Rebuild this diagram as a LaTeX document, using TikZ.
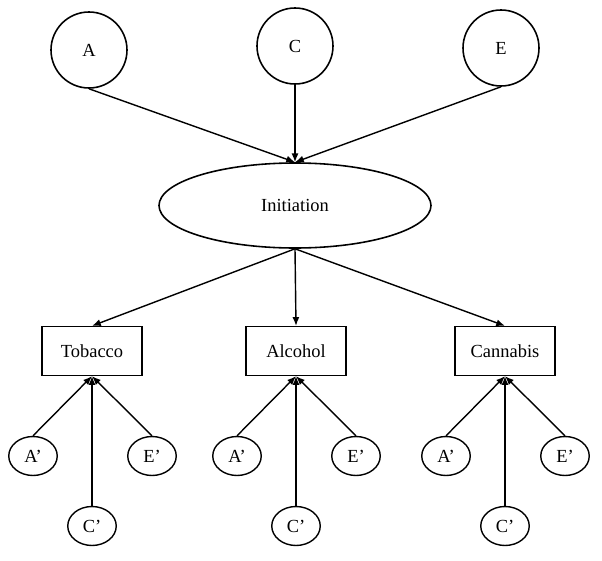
\documentclass[tikz,border=0pt]{standalone}
\usepackage{fontspec}
\setmainfont{Liberation Serif}
\usetikzlibrary{arrows.meta}
\usetikzlibrary{shapes.geometric}
\usetikzlibrary{positioning}
\tikzset{
    factor/.style={
        draw, circle, line width=0.9pt,
        minimum size=1.52cm, inner sep=0pt
    },
    latent/.style={
        draw, ellipse, line width=0.9pt,
        minimum width=5.44cm, minimum height=1.70cm
    },
    substance/.style={
        draw, rectangle, line width=0.7pt,
        minimum width=2.0cm, minimum height=0.98cm
    },
    specific/.style={
        draw, ellipse, line width=0.8pt,
        minimum width=0.97cm, minimum height=0.78cm, inner sep=0pt
    },
    path/.style={line width=0.8pt, -{Latex[length=5pt,width=4pt]}}
}

\begin{document}
\begin{tikzpicture}[font=\fontsize{10.5}{12}\selectfont]
        \useasboundingbox (0,0) rectangle (12.04,-11.2);

        % Common factors
        \node[factor] (A) at (1.78,-1.00) {A};
        \node[factor] (C) at (5.90,-0.92) {C};
        \node[factor] (E) at (10.02,-0.96) {E};

        \node[latent] (init) at (5.90,-4.11) {Initiation};

        \draw[path] (A.south) -- (init.north);
        \draw[path] (C.south) -- (init.north);
        \draw[path] (E.south) -- (init.north);

        % Substances with their specific A', C', E'
        \foreach \name/\lab/\x in {tob/Tobacco/1.84, alc/Alcohol/5.92, can/Cannabis/10.10} {
            \node[substance] (\name) at (\x,-7.02) {\lab};
            \draw[path] (init.south) -- (\name.north);

            \node[specific] (\name-a) at (\x-1.18,-9.12) {A'};
            \node[specific] (\name-c) at (\x,-10.52) {C'};
            \node[specific] (\name-e) at (\x+1.20,-9.12) {E'};

            \draw[path] (\name-a.north) -- (\name.south);
            \draw[path] (\name-c.north) -- (\name.south);
            \draw[path] (\name-e.north) -- (\name.south);
        }
        \end{tikzpicture}
\end{document}
